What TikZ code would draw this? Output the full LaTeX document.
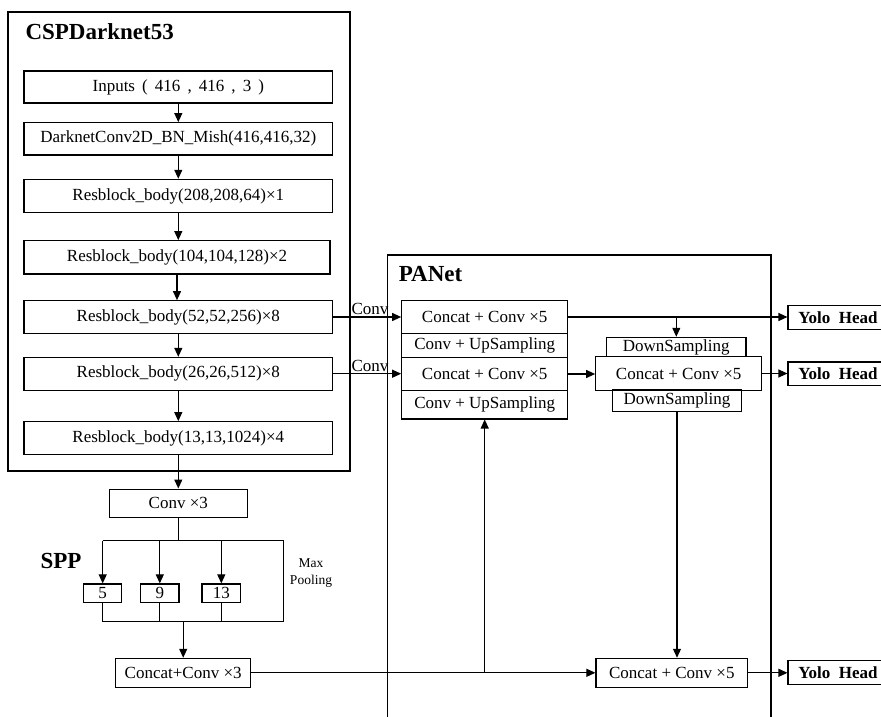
\documentclass[tikz,border=0pt]{standalone}
\usepackage{fontspec}
\setmainfont{Liberation Serif}
\usetikzlibrary{arrows.meta}
\begin{document}
\begin{tikzpicture}[x=1pt,y=-1pt,
  line width=1.1pt,
  box/.style={draw, inner sep=0pt, font=\fontsize{17}{19}\selectfont},
  frame/.style={draw, inner sep=0pt},
  ttl/.style={font=\bfseries\fontsize{23}{26}\selectfont, anchor=base west, inner sep=0pt},
  lbl/.style={font=\fontsize{17}{19}\selectfont, anchor=base west, inner sep=0pt},
  yolo/.style={box, font=\bfseries\fontsize{17}{19}\selectfont, minimum width=100pt, minimum height=23.5pt},
  arr/.style={-{Triangle[length=9pt,width=8pt]}},
  ]
\useasboundingbox (0,0) rectangle (881,717);
\clip (0,0) rectangle (881,717);

% ---------- CSPDarknet53 ----------
\node[frame, minimum width=342pt, minimum height=459pt] (csp) at (179,241.5) {};
\node[ttl] (csptitle) at (25,40) {CSPDarknet53};

\node[box, minimum width=308.7pt, minimum height=32pt]   (inp)  at (178.3,87)    {Inputs\, (\, 416\, ,\, 416\, ,\, 3\, )};
\node[box, minimum width=308.7pt, minimum height=32.3pt] (dark) at (178.3,138.8) {DarknetConv2D\_BN\_Mish(416,416,32)};
\node[box, minimum width=308.7pt, minimum height=33.4pt] (r208) at (178.3,196)   {Resblock\_body(208,208,64)×1};
\node[box, minimum width=306pt,   minimum height=33.3pt] (r104) at (177,257.3)   {Resblock\_body(104,104,128)×2};
\node[box, minimum width=308.7pt, minimum height=32.6pt] (r52)  at (178.3,317)   {Resblock\_body(52,52,256)×8};
\node[box, minimum width=308.7pt, minimum height=32.7pt] (r26)  at (178.3,373.7) {Resblock\_body(26,26,512)×8};
\node[box, minimum width=308.7pt, minimum height=32.6pt] (r13)  at (178.3,438)   {Resblock\_body(13,13,1024)×4};

\draw[arr] (inp.south) -- (dark.north);
\draw[arr] (dark.south) -- (r208.north);
\draw[arr] (r208.south) -- (r208.south |- r104.north);
\draw[arr] (r104.south) -- (r104.south |- r52.north);
\draw[arr] (r52.south) -- (r26.north);
\draw[arr] (r26.south) -- (r13.north);

% ---------- SPP ----------
\node[box, minimum width=138pt, minimum height=28.3pt] (conv3) at (178.3,503.2) {Conv ×3};
\draw[arr] (r13.south) -- (conv3.north);

\node[ttl] (spptitle) at (40,568) {SPP};
\node[font=\fontsize{13.5}{16.5}\selectfont, align=center, inner sep=0pt] (maxp) at (311,573) {Max\\Pooling};

\node[box, minimum width=38.4pt, minimum height=18.7pt] (p5)  at (102.7,593.3) {5};
\node[box, minimum width=38.3pt, minimum height=18.7pt] (p9)  at (159.8,593.3) {9};
\node[box, minimum width=38.7pt, minimum height=18.7pt] (p13) at (221.3,593.3) {13};

\coordinate (tl) at (102.7,540.7);
\coordinate (tr) at (283.3,540.7);
\coordinate (bl) at (102.7,621.7);
\coordinate (br) at (283.3,621.7);

\draw (conv3.south) -- (conv3.south |- tl);
\draw (p5.north |- tl) -- (tr) -- (br) -- (bl);
\draw[arr] (p5.north |- tl) -- (p5.north);
\draw[arr] (p9.north |- tl) -- (p9.north);
\draw[arr] (p13.north |- tl) -- (p13.north);
\draw (p5.south) -- (p5.south |- bl);
\draw (p9.south) -- (p9.south |- bl);
\draw (p13.south) -- (p13.south |- bl);

\node[box, minimum width=135pt, minimum height=29pt] (sppcat) at (183.2,672.8) {Concat+Conv ×3};
\draw[arr] (bl -| sppcat.north) -- (sppcat.north);

% ---------- PANet ----------
\node[frame, minimum width=383.5pt, minimum height=470pt] (pan) at (579.25,490) {};
\node[ttl] (pantitle) at (398.3,281.5) {PANet};

\node[box, minimum width=166pt, minimum height=32.6pt] (c1) at (484.7,317)   {Concat + Conv ×5};
\node[box, minimum width=166pt, minimum height=24pt]   (u1) at (484.7,345.3) {Conv + UpSampling};
\node[box, minimum width=166pt, minimum height=33.4pt] (c2) at (484.7,374)   {Concat + Conv ×5};
\node[box, minimum width=166pt, minimum height=28.3pt] (u2) at (484.7,404.8) {Conv + UpSampling};

\node[box, minimum width=139.3pt, minimum height=19.4pt] (d1) at (676.3,347)   {DownSampling};
\node[box, minimum width=166pt,   minimum height=33.3pt] (m)  at (678.7,373.5) {Concat + Conv ×5};
\node[box, minimum width=129.4pt, minimum height=21.7pt] (d2) at (677,400.8)   {DownSampling};
\node[box, minimum width=151.7pt, minimum height=29pt]   (b)  at (671.8,672.8) {Concat + Conv ×5};

\node[yolo] (yh1) at (838,317.3) {Yolo\ \ Head};
\node[yolo] (yh2) at (838,373.7) {Yolo\ \ Head};
\node[yolo] (yh3) at (838,672.5) {Yolo\ \ Head};

% Conv connectors
\draw[arr] (r52.east) -- (c1.west);
\node[lbl] (cv1) at (351,314.5) {Conv};
\draw[arr] (r26.east) -- (r26.east -| c2.west);
\node[lbl] (cv2) at (351,371.5) {Conv};

\draw[arr] (c1.east) -- (c1.east -| yh1.west);
\draw[arr] (c1.east -| d1.north) -- (d1.north);
\draw[arr] (c2.east) -- (c2.east -| m.west);
\draw[arr] (m.east) -- (m.east -| yh2.west);
\draw[arr] (d2.south) -- (d2.south |- b.north);
\draw[arr] (b.east) -- (b.east -| yh3.west);
\draw[arr] (sppcat.east) -- (b.west);
\draw[arr] (sppcat.east -| u2.south) -- (u2.south);
\end{tikzpicture}
\end{document}
